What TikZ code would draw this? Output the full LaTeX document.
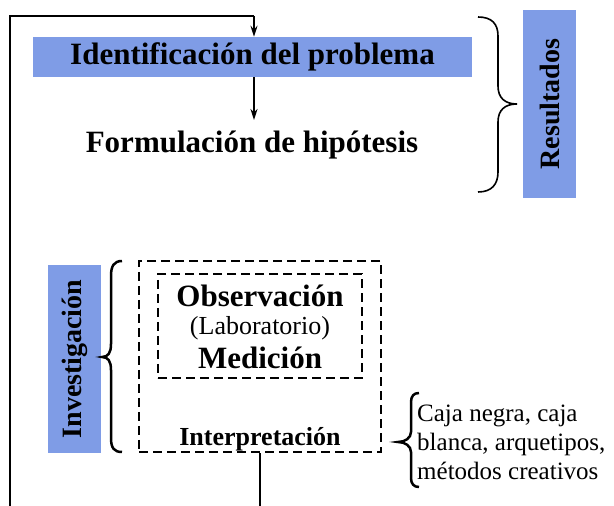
\documentclass[tikz,border=0pt]{standalone}
\usepackage{fontspec}
\setmainfont{Liberation Serif}
\usetikzlibrary{arrows.meta}
\definecolor{bluebox}{RGB}{127,156,230}
\begin{document}
\begin{tikzpicture}[x=1pt,y=1pt,
  bluefill/.style={fill=bluebox,inner sep=0pt,font=\bfseries\fontsize{28}{32}\selectfont},
  bigbold/.style={inner sep=0pt,font=\bfseries\fontsize{31}{36}\selectfont},
  dashbox/.style={draw,line width=2.8pt,dash pattern=on 9pt off 5pt,inner sep=0pt},
  conn/.style={line width=2.8pt},
  arr/.style={conn,-{Stealth[length=11pt,width=7pt]}},
  bracestyle/.style={line width=2.5pt},
]
\useasboundingbox (0,0) rectangle (614,506);
% Results part
\node[bluefill,minimum width=439pt,minimum height=40pt] (ident) at (252.5,449) {\fontsize{31}{36}\selectfont Identificación del problema};
\node[bigbold] (form) at (252,361) {Formulación de hipótesis};
\node[bluefill,minimum width=53pt,minimum height=188pt] (res) at (549.5,402) {};
\node[rotate=90,inner sep=0pt,font=\bfseries\fontsize{28}{32}\selectfont] (restxt) at (res.center) {Resultados};
\draw[line width=1.6pt] (478,489) .. controls (492,489) and (498,482) .. (498,470) -- (498,420) .. controls (498,408) and (505,402) .. (517,402) .. controls (505,402) and (498,396) .. (498,384) -- (498,334) .. controls (498,322) and (492,314) .. (478,314);
% Investigation part
\node[bluefill,minimum width=53pt,minimum height=188pt] (inv) at (74.5,147) {};
\node[rotate=90,inner sep=0pt,font=\bfseries\fontsize{28}{32}\selectfont] (invtxt) at (inv.center) {Investigación};
\draw[bracestyle] (122,245) .. controls (114,245) and (111,240) .. (111,230) -- (111,162) .. controls (111,153) and (108,149) .. (102,149) .. controls (108,149) and (111,145) .. (111,136) -- (111,68) .. controls (111,58) and (114,54) .. (122,54);
\node[dashbox,minimum width=242pt,minimum height=191pt] (outer) at (260,149.5) {};
\node[dashbox,minimum width=204pt,minimum height=104pt] (inner) at (260,180) {};
\node[bigbold] (obs) at (260,210) {Observación};
\node[inner sep=0pt,font=\fontsize{26}{30}\selectfont] (lab) at (260,178) {(Laboratorio)};
\node[bigbold] (med) at (260,148) {Medición};
\node[inner sep=0pt,font=\bfseries\fontsize{26}{30}\selectfont] (interp) at (260,67) {Interpretación};
\draw[bracestyle] (419,113) .. controls (414,113) and (411,110) .. (411,104) -- (411,74) .. controls (411,68) and (405,64) .. (398,64) .. controls (405,64) and (411,60) .. (411,54) -- (411,28) .. controls (411,22) and (414,19) .. (419,19);
\node[anchor=west,inner sep=0pt,align=left,font=\fontsize{25}{29}\selectfont] (caja) at (417,64) {Caja negra, caja\\blanca, arquetipos,\\métodos creativos};
% Feedback loop and connectors
\coordinate (bl) at (10,0);
\coordinate (tl) at (10,490);
\coordinate (tr) at (254,490);
\coordinate (ftop) at (254,386);
\coordinate (bot) at (260,0);
\draw[conn,line join=miter] (bl) -- (tl) -- (tr);
\draw[arr] (tr) -- (tr |- ident.north);
\draw[arr] (ident.south -| tr) -- (ftop);
\draw[conn] (outer.south -| bot) -- (bot);
\end{tikzpicture}
\end{document}
